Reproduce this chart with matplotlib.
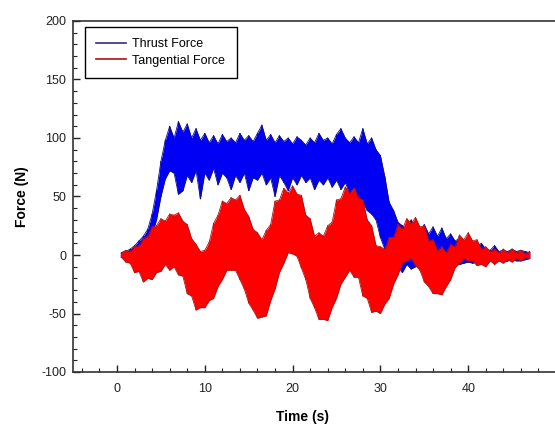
import numpy as np
import matplotlib
matplotlib.use("Agg")
import matplotlib.pyplot as plt
from matplotlib.ticker import MultipleLocator, FixedLocator
from matplotlib.lines import Line2D

plt.rcParams['font.family'] = ['Liberation Sans', 'DejaVu Sans']
plt.rcParams['axes.unicode_minus'] = False

# sample times (s)
time_s = [0.5, 1.0, 1.5, 2.0, 2.5, 3.0, 3.5, 4.0, 4.5, 5.0,
          5.5, 6.0, 6.5, 7.0, 7.5, 8.0, 8.5, 9.0, 9.5, 10.0,
          10.5, 11.0, 11.5, 12.0, 12.5, 13.0, 13.5, 14.0, 14.5, 15.0,
          15.5, 16.0, 16.5, 17.0, 17.5, 18.0, 18.5, 19.0, 19.5, 20.0,
          20.5, 21.0, 21.5, 22.0, 22.5, 23.0, 23.5, 24.0, 24.5, 25.0,
          25.5, 26.0, 26.5, 27.0, 27.5, 28.0, 28.5, 29.0, 29.5, 30.0,
          30.5, 31.0, 31.5, 32.0, 32.5, 33.0, 33.5, 34.0, 34.5, 35.0,
          35.5, 36.0, 36.5, 37.0, 37.5, 38.0, 38.5, 39.0, 39.5, 40.0,
          40.5, 41.0, 41.5, 42.0, 42.5, 43.0, 43.5, 44.0, 44.5, 45.0,
          45.5, 46.0, 46.5, 47.0]

# Thrust force envelope (N)
thrust_hi = [2, 3, 5, 8, 12, 16, 22, 35, 55, 80,
             98, 110, 100, 114, 105, 112, 100, 108, 98, 104,
             96, 102, 95, 103, 97, 100, 96, 104, 98, 102,
             97, 104, 111, 98, 103, 96, 102, 97, 100, 95,
             101, 98, 94, 100, 96, 104, 98, 100, 95, 103,
             108, 100, 96, 101, 96, 108, 95, 100, 90, 85,
             67, 45, 38, 28, 25, 22, 30, 22, 20, 26,
             18, 24, 16, 23, 14, 18, 12, 14, 10, 12,
             8, 7, 10, 5, 4, 8, 3, 4, 3, 5,
             3, 4, 3, 2]
thrust_lo = [-2, -2, 0, 2, 4, 6, 10, 18, 30, 50,
             65, 72, 70, 52, 55, 68, 62, 72, 48, 70,
             64, 74, 60, 70, 66, 56, 68, 62, 70, 55,
             66, 64, 70, 60, 66, 50, 68, 62, 55, 66,
             60, 68, 62, 66, 56, 64, 60, 66, 58, 64,
             56, 62, 52, 58, 48, 45, 38, 35, 30, 15,
             5, 0, -12, -10, -15, -8, -12, -10, -8, -10,
             -6, -8, -6, -5, -6, -5, -6, -8, -7, -6,
             -7, -6, -5, -6, -5, -4, -5, -6, -5, -4,
             -5, -5, -4, -3]

# Tangential force envelope (N)
tang_hi = [2, 4, 3, 7, 8, 14, 16, 24, 25, 31,
           29, 35, 34, 36, 29, 26, 14, 9, 3, 4,
           11, 27, 34, 46, 44, 49, 47, 51, 39, 33,
           22, 19, 13, 21, 26, 46, 47, 57, 53, 59,
           52, 51, 34, 31, 16, 19, 16, 25, 28, 47,
           48, 58, 53, 57, 49, 47, 30, 25, 8, 7,
           5, 15, 15, 26, 22, 31, 27, 32, 24, 25,
           12, 13, 4, 7, 2, 9, 7, 17, 13, 19,
           12, 13, 5, 7, 3, 5, 2, 5, 2, 5,
           2, 4, 1, 3]
tang_lo = [-2, -6, -7, -15, -14, -23, -20, -21, -15, -14,
           -8, -13, -10, -17, -18, -33, -35, -47, -45, -45,
           -39, -37, -27, -21, -13, -13, -13, -21, -29, -41,
           -47, -54, -53, -52, -39, -29, -15, -7, 2, 1,
           -1, -11, -21, -37, -45, -55, -55, -56, -45, -37,
           -25, -19, -13, -19, -19, -35, -37, -49, -48, -50,
           -42, -37, -25, -17, -7, -5, -3, -9, -13, -23,
           -27, -33, -33, -34, -27, -21, -11, -7, -3, -5,
           -5, -9, -8, -10, -5, -8, -5, -7, -4, -6,
           -3, -5, -2, -3]

series_labels = ["Thrust Force", "Tangential Force"]
x_ticks = [0, 10, 20, 30, 40]

W, H = 555, 426
fig = plt.figure(figsize=(W / 100, H / 100), dpi=100)
left_px, right_px, top_px, bottom_px = 73, 560, 21, 372
ax = fig.add_axes([left_px / W, 1 - bottom_px / H,
                   (right_px - left_px) / W, (bottom_px - top_px) / H])

x0_px, px_per_s = 117, 8.78
ax.set_xlim((left_px - x0_px) / px_per_s, (right_px - x0_px) / px_per_s)
ax.set_ylim(-100, 200)

t = np.array(time_s)

def draw_band(hi, lo, face, edge, z):
    hi = np.array(hi, float)
    lo = np.array(lo, float)
    ax.fill_between(t, lo, hi, color=face, lw=0, zorder=z)
    xs = np.repeat(t, 2)
    ys = np.empty(2 * len(t))
    ys[0::2] = lo
    ys[1::2] = hi
    ax.plot(xs, ys, color=face, lw=0.8, zorder=z + 0.1)
    ax.plot(t, hi, color=edge, lw=0.6, zorder=z + 0.2)
    ax.plot(t, lo, color=edge, lw=0.6, zorder=z + 0.2)

draw_band(thrust_hi, thrust_lo, '#0000f5', '#10107a', 2)
draw_band(tang_hi, tang_lo, '#ff0000', '#a01818', 3)

ax.xaxis.set_major_locator(FixedLocator(x_ticks))
ax.xaxis.set_minor_locator(MultipleLocator(2))
ax.yaxis.set_major_locator(MultipleLocator(50))
ax.yaxis.set_minor_locator(MultipleLocator(10))
ax.tick_params(which='both', direction='in', top=False, right=False,
               colors='#222222', labelsize=9)
ax.tick_params(axis='y', which='major', length=5, width=1, pad=5)
ax.tick_params(axis='y', which='minor', length=3, width=0.8)
ax.tick_params(axis='x', which='major', length=5, width=1, pad=8)
ax.tick_params(axis='x', which='minor', length=3, width=0.8)

for s in ['left', 'bottom', 'top']:
    ax.spines[s].set_color('#333333')
    ax.spines[s].set_linewidth(1.2)
    ax.spines[s].set_zorder(5)
ax.spines['right'].set_visible(False)

ax.set_xlabel("Time (s)", fontsize=10, fontweight='bold')
ax.set_ylabel("Force (N)", fontsize=10, fontweight='bold')
axw = right_px - left_px
axh = bottom_px - top_px
ax.xaxis.set_label_coords((303 - left_px) / axw, -(410 - bottom_px) / axh)
ax.yaxis.set_label_coords(-(73 - 29) / axw, 0.5)

handles = [Line2D([], [], color='#30307a', lw=1.2),
           Line2D([], [], color='#b01010', lw=1.2)]
leg = ax.legend(handles, series_labels, loc='upper left',
                bbox_to_anchor=(12 / axw, 1 - 6 / axh), borderaxespad=0,
                fontsize=9, frameon=True, fancybox=False, shadow=False,
                framealpha=1, edgecolor='black', borderpad=0.9,
                labelspacing=0.35, handlelength=2.4, handletextpad=0.5)
leg.get_frame().set_linewidth(1.0)
leg.set_zorder(10)

fig.savefig("out.png", dpi=100)
